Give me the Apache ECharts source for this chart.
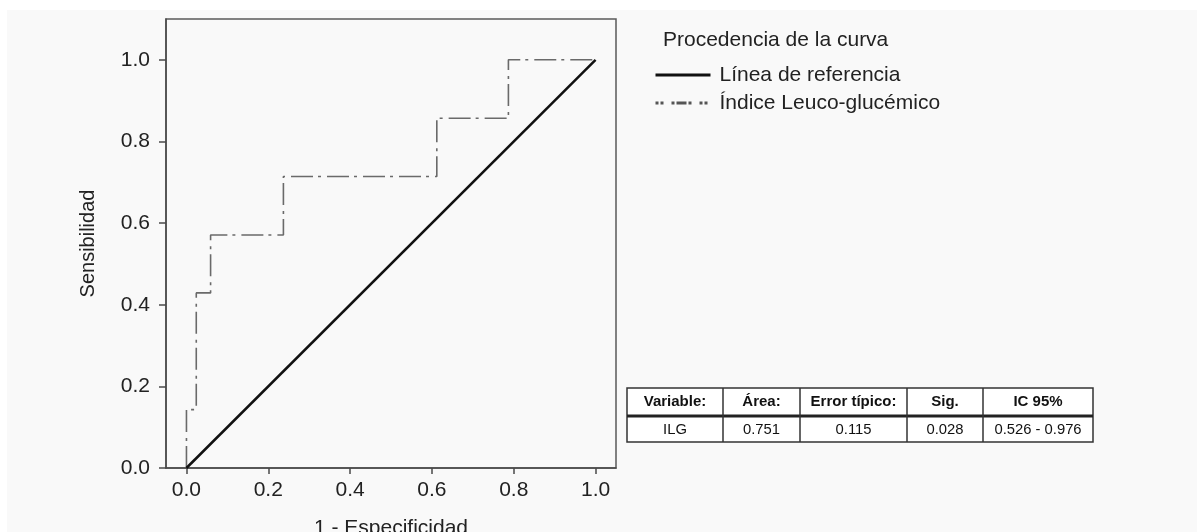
<!DOCTYPE html>
<html>
<head>
<meta charset="utf-8">
<script src="https://cdn.jsdelivr.net/npm/echarts@6/dist/echarts.min.js"></script>
<style>
  html, body { margin: 0; padding: 0; background: #ffffff; }
  #chart { position: absolute; left: 7px; top: 10px; width: 1190px; height: 522px; }
</style>
</head>
<body>
<div id="chart"></div>
<script>
// ROC curve vertices (1 - especificidad, sensibilidad)
const rocFpr = [0, 0, 0.024, 0.024, 0.059, 0.059, 0.237, 0.237, 0.612, 0.612, 0.787, 0.787, 1.0];
const rocTpr = [0, 0.143, 0.143, 0.429, 0.429, 0.571, 0.571, 0.714, 0.714, 0.857, 0.857, 1.0, 1.0];
// Diagonal reference line
const refFpr = [0, 1];
const refTpr = [0, 1];
// Axis tick labels
const xTicks = [0, 0.2, 0.4, 0.6, 0.8, 1.0];
const yTicks = [0, 0.2, 0.4, 0.6, 0.8, 1.0];
// Series names
const seriesNames = ['Línea de referencia', 'Índice Leuco-glucémico'];
// Summary table
const tableHeader = ['Variable:', 'Área:', 'Error típico:', 'Sig.', 'IC 95%'];
const tableRow = ['ILG', '0.751', '0.115', '0.028', '0.526 - 0.976'];
const tableCols = [627, 723, 800, 907, 983, 1093];

// offset of the chart container within the page
const OX = 7, OY = 10;
const FONT = 'Liberation Sans, Arial, sans-serif';

const chart = echarts.init(document.getElementById('chart'), null, { renderer: 'canvas' });

// summary table drawn with graphic elements
const tTop = 388, tMid = 416, tBot = 442;
const tableGraphics = [];
tableGraphics.push({
  type: 'rect',
  shape: { x: tableCols[0] - OX, y: tTop - OY, width: tableCols[5] - tableCols[0], height: tBot - tTop },
  style: { fill: '#ffffff', stroke: '#333333', lineWidth: 1.5 }
});
tableGraphics.push({
  type: 'line',
  shape: { x1: tableCols[0] - OX, y1: tMid - OY, x2: tableCols[5] - OX, y2: tMid - OY },
  style: { stroke: '#222222', lineWidth: 3 }
});
for (let i = 1; i < tableCols.length - 1; i++) {
  tableGraphics.push({
    type: 'line',
    shape: { x1: tableCols[i] - OX, y1: tTop - OY, x2: tableCols[i] - OX, y2: tBot - OY },
    style: { stroke: '#333333', lineWidth: 1.5 }
  });
}
for (let i = 0; i < tableHeader.length; i++) {
  const cx = (tableCols[i] + tableCols[i + 1]) / 2 - OX;
  tableGraphics.push({
    type: 'text',
    x: cx, y: 402 - OY,
    style: { text: tableHeader[i], font: 'bold 15px ' + FONT, fill: '#111111', align: 'center', verticalAlign: 'middle' }
  });
  tableGraphics.push({
    type: 'text',
    x: cx, y: 430 - OY,
    style: { text: tableRow[i], font: '14.8px ' + FONT, fill: '#111111', align: 'center', verticalAlign: 'middle' }
  });
}

const option = {
  backgroundColor: '#f9f9f9',
  animation: false,
  textStyle: { fontFamily: FONT },
  title: {
    text: 'Procedencia de la curva',
    left: 663 - OX,
    top: 29 - OY,
    padding: 0,
    textStyle: { fontSize: 21, lineHeight: 22, fontWeight: 'normal', color: '#222222', fontFamily: FONT }
  },
  legend: {
    orient: 'vertical',
    left: 654 - OX,
    top: 61 - OY,
    padding: 0,
    itemGap: 0,
    itemWidth: 55,
    itemHeight: 14,
    itemStyle: { opacity: 0, borderWidth: 0 },
    data: [
      { name: seriesNames[0], lineStyle: { color: '#111111', width: 3, type: 'solid' } },
      { name: seriesNames[1], lineStyle: { color: '#555555', width: 3, type: [3, 2, 3, 8, 3, 2, 10, 2, 3, 8, 3, 2, 3, 30] } }
    ],
    textStyle: { fontSize: 21, color: '#222222', lineHeight: 28, padding: [0, 0, 0, 4], fontFamily: FONT }
  },
  grid: {
    left: 166 - OX,
    top: 19 - OY,
    width: 616 - 166,
    height: 468 - 19,
    show: true,
    borderColor: '#5a5a5a',
    borderWidth: 1.5,
    backgroundColor: 'transparent',
    containLabel: false,
    outerBoundsMode: 'none'
  },
  xAxis: {
    type: 'value',
    min: -0.05,
    max: 1.05,
    name: '1 - Especificidad',
    nameLocation: 'middle',
    nameGap: 50,
    nameTextStyle: { fontSize: 21, color: '#222222', fontFamily: FONT },
    axisLine: { show: true, onZero: false, lineStyle: { color: '#4a4a4a', width: 1.5 } },
    axisTick: { show: true, length: 6, customValues: xTicks, lineStyle: { color: '#4a4a4a', width: 1.5 } },
    axisLabel: {
      customValues: xTicks,
      margin: 12,
      fontSize: 21,
      color: '#222222',
      formatter: v => v.toFixed(1)
    },
    splitLine: { show: false }
  },
  yAxis: {
    type: 'value',
    min: 0,
    max: 1.1,
    name: 'Sensibilidad',
    nameLocation: 'middle',
    nameGap: 68,
    nameTextStyle: { fontSize: 20, color: '#222222', fontFamily: FONT },
    axisLine: { show: true, onZero: false, lineStyle: { color: '#4a4a4a', width: 1.5 } },
    axisTick: { show: true, length: 7, customValues: yTicks, lineStyle: { color: '#4a4a4a', width: 1.5 } },
    axisLabel: {
      customValues: yTicks,
      margin: 16,
      fontSize: 21,
      color: '#222222',
      formatter: v => v.toFixed(1)
    },
    splitLine: { show: false }
  },
  series: [
    {
      name: seriesNames[0],
      type: 'line',
      data: refFpr.map((x, i) => [x, refTpr[i]]),
      showSymbol: false,
      symbol: 'none',
      color: '#111111',
      lineStyle: { color: '#111111', width: 2.5 },
      z: 3
    },
    {
      name: seriesNames[1],
      type: 'line',
      data: rocFpr.map((x, i) => [x, rocTpr[i]]),
      showSymbol: false,
      symbol: 'none',
      color: '#6a6a6a',
      lineStyle: { color: '#6a6a6a', width: 1.6, type: [22, 5, 3, 6] },
      z: 2
    }
  ],
  graphic: tableGraphics
};

chart.setOption(option);
</script>
</body>
</html>
